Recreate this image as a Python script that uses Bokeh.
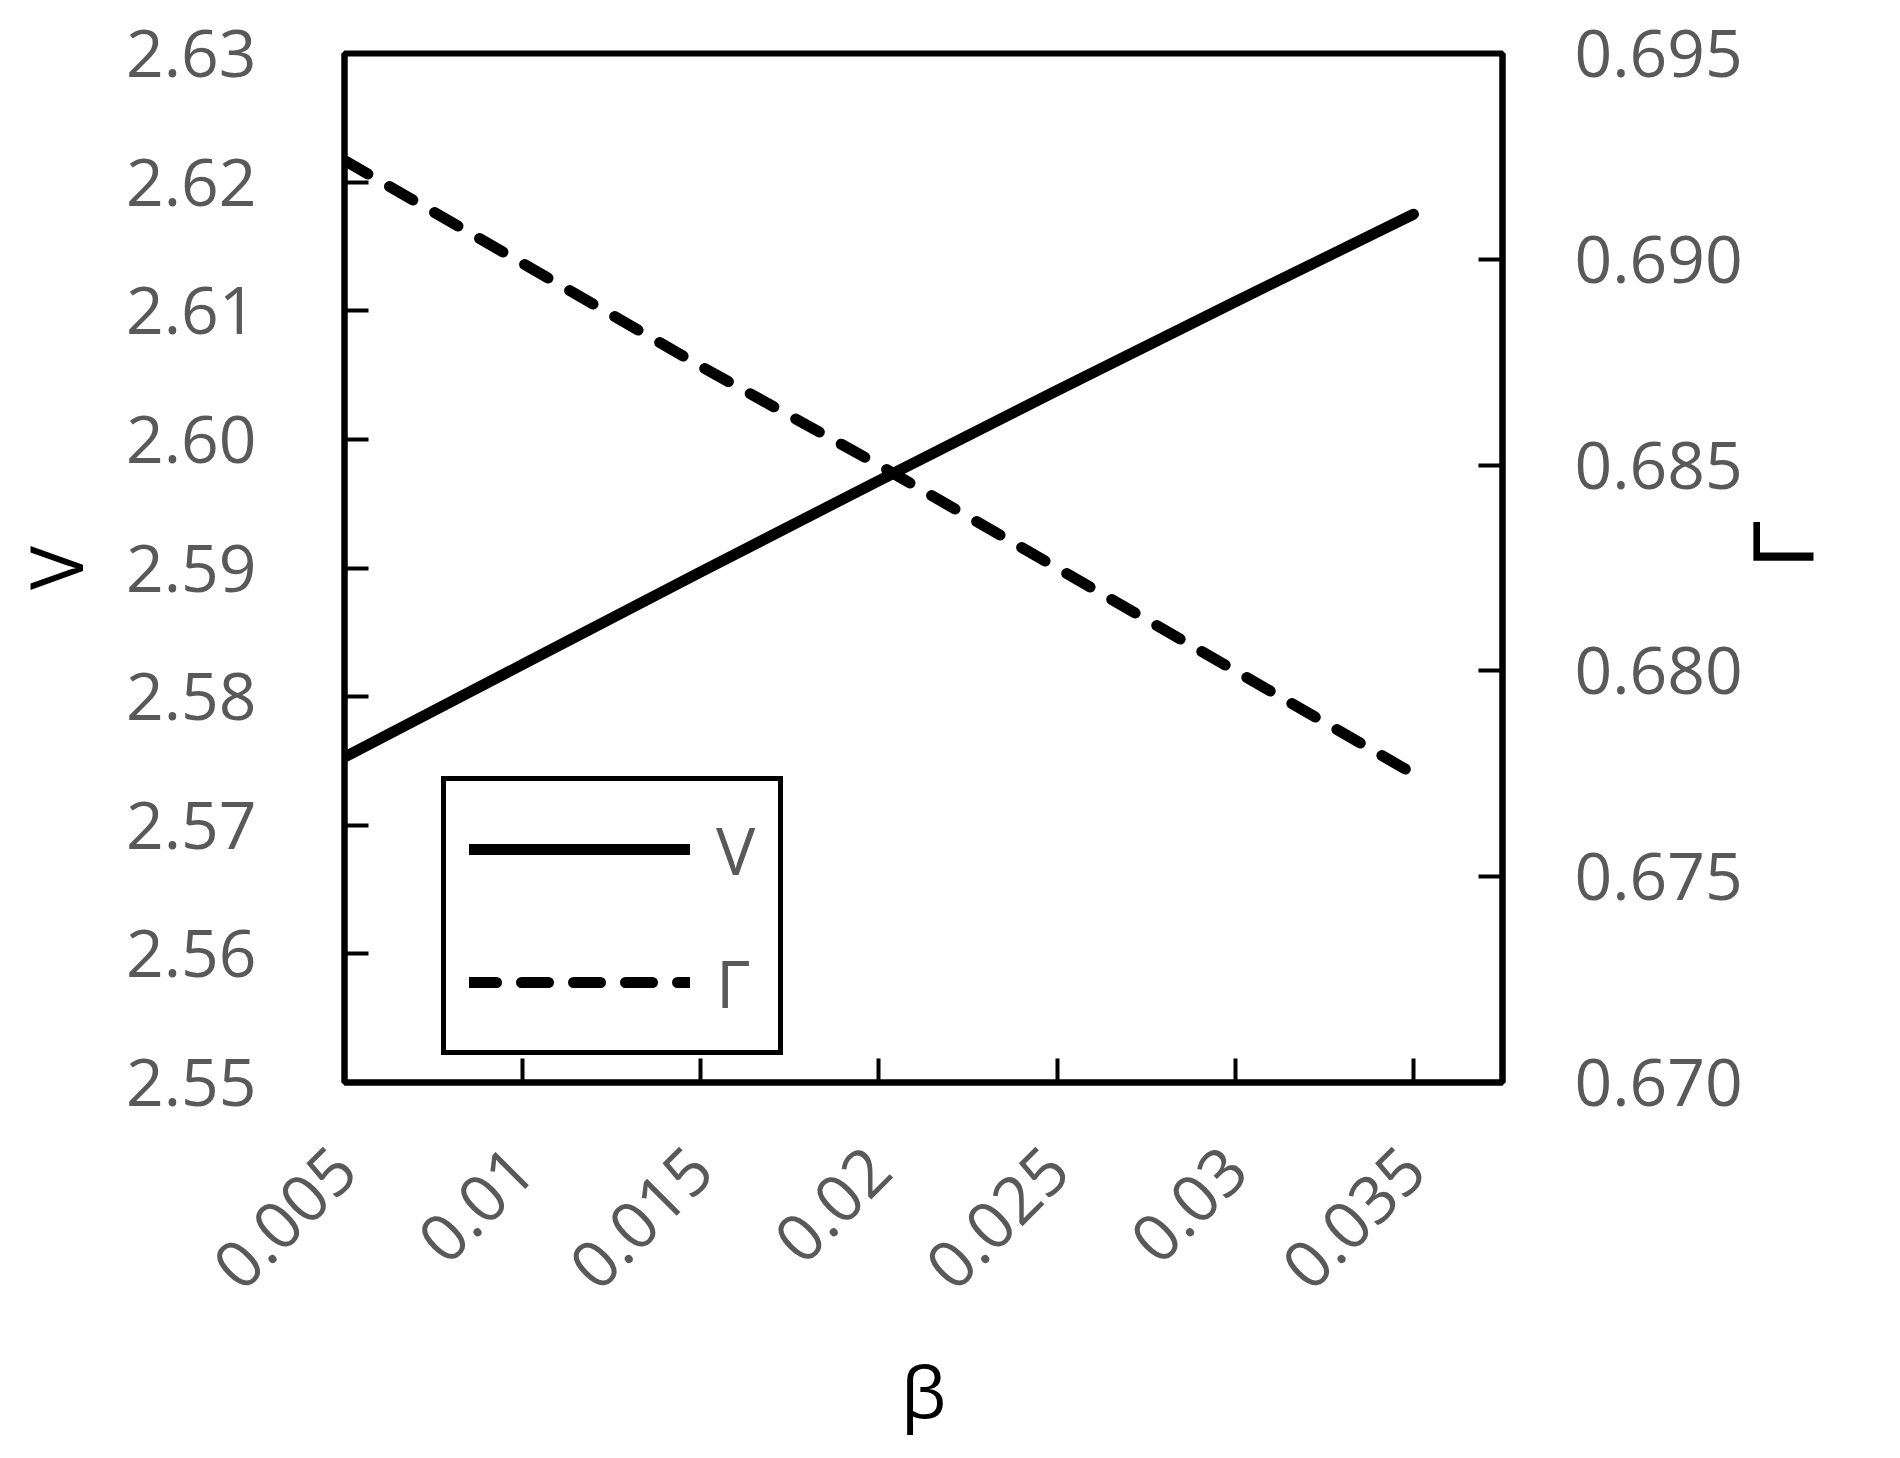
import math
from bokeh.plotting import figure
from bokeh.models import (Range1d, LinearAxis, FixedTicker, Legend, LegendItem)
from bokeh.embed import file_html
from bokeh.resources import INLINE

# ---- data ----
beta = [0.005, 0.01, 0.015, 0.02, 0.025, 0.03, 0.035]
V_vals = [2.5753, 2.5825, 2.5897, 2.5968, 2.6038, 2.6107, 2.6175]
G_vals = [0.6924, 0.6899, 0.6874, 0.6850, 0.6825, 0.6800, 0.6775]

x_ticks = [0.005, 0.01, 0.015, 0.02, 0.025, 0.03, 0.035]
x_tick_labels = ["0.005", "0.01", "0.015", "0.02", "0.025", "0.03", "0.035"]
v_ticks = [2.55, 2.56, 2.57, 2.58, 2.59, 2.60, 2.61, 2.62, 2.63]
v_tick_labels = ["2.55", "2.56", "2.57", "2.58", "2.59", "2.60", "2.61", "2.62", "2.63"]
g_ticks = [0.670, 0.675, 0.680, 0.685, 0.690, 0.695]
g_tick_labels = ["0.670", "0.675", "0.680", "0.685", "0.690", "0.695"]

FONT = "Open Sans"
GRAY = "#595959"

W, H = 1884, 1450
FL, FR, FT, FB = 343, 1503, 53, 1082
p = figure(width=W, height=H, output_backend="svg", toolbar_location=None,
           x_range=Range1d(0.005, 0.0375), y_range=Range1d(2.55, 2.63),
           min_border_left=FL, min_border_right=W - FR, min_border_top=FT,
           min_border_bottom=H - FB)
p.extra_y_ranges = {"g": Range1d(0.670, 0.695)}
p.xgrid.visible = False
p.ygrid.visible = False
p.outline_line_color = "black"
p.outline_line_width = 6
p.outline_line_alpha = 1
p.background_fill_color = "white"
p.border_fill_color = "white"

rv = p.line(beta, V_vals, line_color="black", line_width=11, line_cap="round", line_join="round")
rg = p.line(beta, G_vals, line_color="black", line_width=11, line_cap="round", line_join="round",
            line_dash="27 25", y_range_name="g")

right_axis = LinearAxis(y_range_name="g")
p.add_layout(right_axis, "right")

def style_axis(ax, ticks, labels, standoff):
    ax.ticker = FixedTicker(ticks=ticks)
    ax.major_label_overrides = {t: l for t, l in zip(ticks, labels)}
    ax.minor_tick_line_color = None
    ax.major_tick_in = 24
    ax.major_tick_out = 0
    ax.major_tick_line_width = 4
    ax.major_tick_line_color = "black"
    ax.axis_line_width = 6
    ax.axis_line_color = "black"
    ax.major_label_text_font = FONT
    ax.major_label_text_font_size = "66px"
    ax.major_label_text_color = GRAY
    ax.major_label_standoff = standoff
    ax.axis_label_text_font = FONT
    ax.axis_label_text_font_style = "normal"
    ax.axis_label_text_color = "black"

style_axis(p.xaxis[0], x_ticks, x_tick_labels, 76)
p.xaxis[0].major_label_orientation = math.pi / 4
p.xaxis[0].axis_label = "β"
p.xaxis[0].axis_label_text_font_size = "72px"
p.xaxis[0].axis_label_standoff = 27

style_axis(p.yaxis[0], v_ticks, v_tick_labels, 88)
p.yaxis[0].axis_label = "V"
p.yaxis[0].axis_label_text_font_size = "74px"
p.yaxis[0].axis_label_standoff = 18

style_axis(right_axis, g_ticks, g_tick_labels, 72)
# right-hand title reads bottom-to-top (rotated counter-clockwise) as in the reference
right_axis.axis_label_orientation = math.pi / 2
right_axis.axis_label = "Γ"
right_axis.axis_label_text_font = "Liberation Sans"
right_axis.axis_label_text_font_size = "88px"
right_axis.axis_label_text_align = "center"
right_axis.axis_label_text_baseline = "top"
right_axis.axis_label_standoff = 37

legend = Legend(items=[LegendItem(label="V", renderers=[rv]),
                       LegendItem(label="Γ", renderers=[rg])],
                location=(97, 27))
legend.border_line_color = "black"
legend.border_line_alpha = 1
legend.border_line_width = 5
legend.background_fill_color = "white"
legend.background_fill_alpha = 1
legend.padding = 23
legend.spacing = 43
legend.glyph_width = 221
legend.glyph_height = 90
legend.label_height = 90
legend.label_standoff = 26
legend.label_text_font = FONT
legend.label_text_font_size = "66px"
legend.label_text_color = GRAY
legend.margin = 0
p.add_layout(legend)

open("out.html", "w").write(file_html(p, INLINE))
